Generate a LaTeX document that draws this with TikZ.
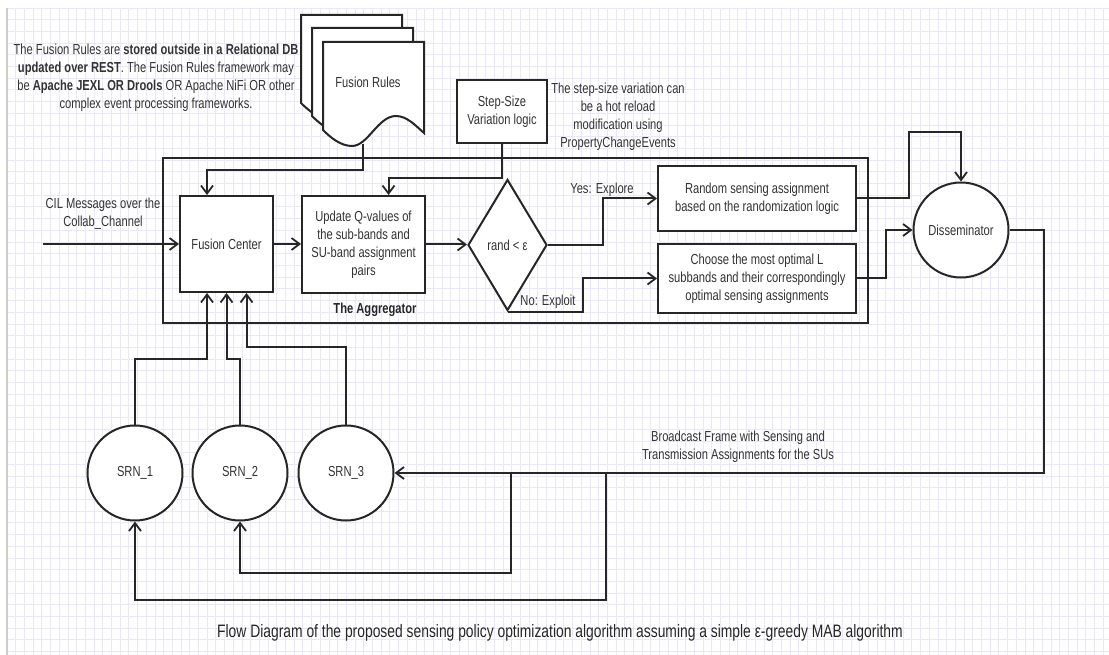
\documentclass[tikz,border=0pt]{standalone}
\usepackage{fontspec}
\setmainfont[FakeStretch=0.77]{Liberation Sans}
\usetikzlibrary{shapes.geometric,arrows.meta,calc}
\definecolor{ink}{HTML}{262626}
\definecolor{txtc}{HTML}{333333}
\definecolor{gridc}{RGB}{232,232,250}
\definecolor{edgec}{RGB}{205,205,205}
\tikzset{
  txt/.style={font=\fontsize{14.5}{18}\selectfont, align=center, inner sep=0pt, text=txtc},
  boxnode/.style={draw=ink, line width=2pt, fill=white, txt, inner sep=0pt},
  circnode/.style={circle, draw=ink, line width=2pt, fill=white, txt, minimum size=95pt, inner sep=0pt},
  conn/.style={draw=ink, line width=2pt},
  arr/.style={-{Straight Barb[length=8pt,width=12pt,line width=1.8pt]}},
  gridline/.style={draw=gridc, line width=0.8pt},
  docpage/.style={draw=ink, line width=2pt, fill=white}
}
\newcommand\fusionpage[2]{%
  \begin{scope}[shift={(#1,#2)}]
    \path[docpage] (0,0) -- (101,0) -- (101,91) .. controls (93,84) and (84,74) .. (73,74)
      .. controls (55,74) and (45,104) .. (29,104) .. controls (18,104) and (8,96) .. (0,88) -- cycle;
  \end{scope}}
\begin{document}
\begin{tikzpicture}[x=1pt,y=-1pt]
% background and grid
\path[fill=white] (0,0) rectangle (1109,655);
\useasboundingbox (0,0) rectangle (1109,655);
\foreach \i in {1,...,126} \draw[gridline] ({7+8.7*\i},8) -- ({7+8.7*\i},655);
\foreach \j in {1,...,55} \draw[gridline] (7,{8+11.7*\j}) -- (1109,{8+11.7*\j});
\draw[gridline] (7,8) -- (1109,8);
\draw[draw=edgec, line width=1.5pt] (7,8) -- (7,655);

% fusion rules documents
\fusionpage{301}{15}
\fusionpage{312}{28}
\fusionpage{323}{42}
\node[txt] (fr) at (368,82) {Fusion Rules};
\coordinate (docb) at (363,144);

% top-left note
\node[txt] (note1) at (156,77.5) {The Fusion Rules are \textbf{stored outside in a Relational DB}\\
\textbf{updated over REST}. The Fusion Rules framework may\\
be \textbf{Apache JEXL OR Drools} OR Apache NiFi OR other\\
complex event processing frameworks.};

% step-size
\node[boxnode, minimum width=90pt, minimum height=63pt] (step) at (502,111.5) {Step-Size\\Variation logic};
\node[txt] (stepnote) at (618,117) {The step-size variation can\\be a hot reload\\modification using\\PropertyChangeEvents};

% aggregator
\draw[draw=ink, line width=2.6pt] (163,158) rectangle (868,323);
\node[txt, font=\fontsize{14.5}{18}\selectfont\bfseries, text=ink] (agg) at (375,310) {The Aggregator};

\node[boxnode, minimum width=93pt, minimum height=96pt] (fc) at (226.5,244) {Fusion Center};
\node[boxnode, minimum width=123pt, minimum height=97pt] (upd) at (363.5,244.5) {Update Q-values of\\the sub-bands and\\SU-band assignment\\pairs};
\node[diamond, draw=ink, line width=2pt, fill=white, txt, minimum width=79pt, minimum height=131pt] (dec) at (507.5,245) {rand < ε};
\node[boxnode, minimum width=198pt, minimum height=65pt] (rnd) at (757,198.5) {Random sensing assignment\\based on the randomization logic};
\node[boxnode, minimum width=198pt, minimum height=69pt] (cho) at (757,278.5) {Choose the most optimal L\\subbands and their correspondingly\\optimal sensing assignments};

\node[circnode] (dis) at (961,230) {Disseminator};
\node[circnode] (s1) at (135,473) {SRN\_1};
\node[circnode] (s2) at (240,473) {SRN\_2};
\node[circnode] (s3) at (346,473) {SRN\_3};

% labels
\node[txt] (cil) at (103,214) {CIL Messages over the\\Collab\_Channel};
\node[txt] (yes) at (602,190) {Yes: Explore};
\node[txt] (no) at (548,302) {No: Exploit};
\node[txt] (bc) at (738,446.5) {Broadcast Frame with Sensing and\\Transmission Assignments for the SUs};
\node[txt, font=\fontsize{18}{22}\selectfont, text=ink] (cap) at (560,633) {Flow Diagram of the proposed sensing policy optimization algorithm assuming a simple ε-greedy MAB algorithm};

% coordinates
\coordinate (cilin) at (43,244);
\coordinate (rb) at (1044,473);
\coordinate (j1) at (511,473);
\coordinate (j2) at (606,473);

% connectors
\draw[conn,arr] (cilin) -- (fc.west);
\draw[conn,arr] (fc.east) -- (fc.east -| upd.west);
\draw[conn,arr] (upd.east) -- (upd.east -| dec.west);
\draw[conn,arr] (docb) -- ++(0,26) -| ([xshift=-19.5pt]fc.north);
\draw[conn,arr] (step.south) -- ++(0,34) -| ([xshift=25pt]upd.north);
\draw[conn,arr] (dec.east) -- ++(55,0) |- (rnd.west);
\draw[conn,arr] (dec.south) -- ++(75,0) |- (cho.west);
\draw[conn,arr] (rnd.east) -- ++(52,0) -- ++(0,-66) -| (dis.north);
\draw[conn,arr] (cho.east) -- ++(29,0) |- (dis.west);
\draw[conn,arr] (dis.east) -| (rb) -- (s3.east);
\draw[conn,arr] (j1) -- ++(0,100) -| (s2.south);
\draw[conn,arr] (j2) -- ++(0,127) -| (s1.south);
\draw[conn,arr] (s1.north) -- ++(0,-66) -| ([xshift=-19.5pt]fc.south);
\draw[conn,arr] (s2.north) -- ++(0,-66) -| (fc.south);
\draw[conn,arr] (s3.north) -- ++(0,-78) -| ([xshift=20pt]fc.south);
\end{tikzpicture}
\end{document}
